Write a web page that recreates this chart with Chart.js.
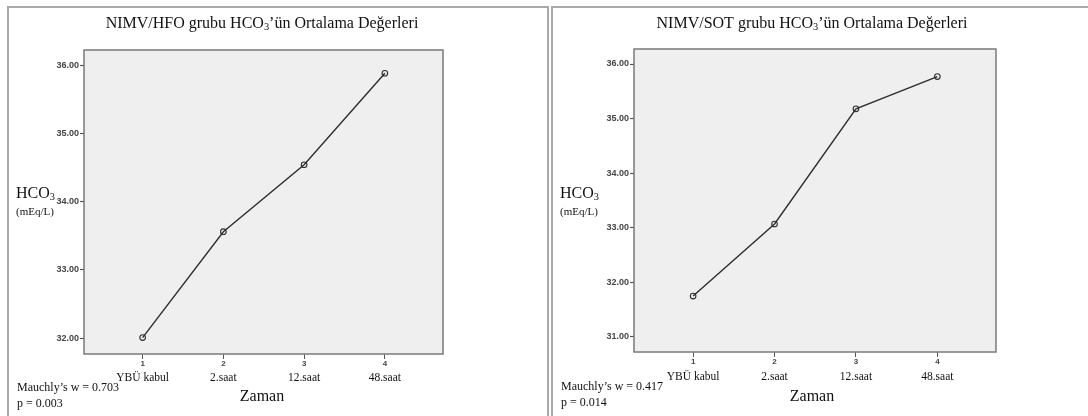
<!DOCTYPE html>
<html>
<head>
<meta charset="utf-8">
<script src="https://cdn.jsdelivr.net/npm/chart.js@4.4.0/dist/chart.umd.min.js"></script>
<style>
body{margin:0;background:#fff;width:1088px;height:416px;overflow:hidden;position:relative}
.frame{position:absolute;top:6px;height:420px;border:2px solid #a9a9a9;border-bottom:none}
canvas{position:absolute;top:0}
</style>
</head>
<body>
<div class="frame" style="left:7px;width:538px"></div>
<div class="frame" style="left:551px;width:600px"></div>
<canvas id="hfo" width="549" height="416" style="left:0"></canvas>
<canvas id="sot" width="539" height="416" style="left:549px"></canvas>
<script>
// ---------------- DATA ----------------
const timePoints = [1, 2, 3, 4];
const timeLabels = ['YBÜ kabul', '2.saat', '12.saat', '48.saat'];
const hfoValues = [32.01, 33.56, 34.54, 35.88];
const sotValues = [31.75, 33.07, 35.18, 35.77];
const hfoTicks = [32, 33, 34, 35, 36];
const sotTicks = [31, 32, 33, 34, 35, 36];

const SERIF = '"Liberation Serif", "Times New Roman", serif';

// text with a subscript "3", drawn left-aligned from x, middle at y
function subText(ctx, parts, x, y, size){
  let cx = x;
  parts.forEach(p => {
    const sub = p.sub;
    ctx.font = (sub ? size * 0.65 : size) + 'px ' + SERIF;
    ctx.fillText(p.t, cx, y + (sub ? size * 0.22 : 0));
    cx += ctx.measureText(p.t).width;
  });
  return cx - x;
}
function measureParts(ctx, parts, size){
  let w = 0;
  parts.forEach(p => {
    ctx.font = (p.sub ? size * 0.65 : size) + 'px ' + SERIF;
    w += ctx.measureText(p.t).width;
  });
  return w;
}

// ---------------- TEXT + FRAME PLUGIN ----------------
function panelPlugin(o){
  return {
    id: 'panel',
    beforeDraw(chart){
      const {ctx, chartArea: a} = chart;
      ctx.save();
      ctx.fillStyle = '#efefef';
      ctx.fillRect(a.left, a.top, a.right - a.left, a.bottom - a.top);
      ctx.restore();
    },
    afterDraw(chart){
      const {ctx, chartArea: a} = chart;
      ctx.save();
      ctx.strokeStyle = '#7a7a7a';
      ctx.lineWidth = 1.5;
      ctx.strokeRect(a.left, a.top, a.right - a.left, a.bottom - a.top);

      ctx.fillStyle = '#111';
      ctx.textBaseline = 'middle';
      ctx.textAlign = 'left';
      // title
      const tp = [{t: o.titleA}, {t: '3', sub: true}, {t: '’ün Ortalama Değerleri'}];
      const tw = measureParts(ctx, tp, 16);
      subText(ctx, tp, o.titleX - tw / 2, 24, 16);
      // y label
      subText(ctx, [{t: 'HCO'}, {t: '3', sub: true}], o.ylabX, 194, 16);
      ctx.font = '11px ' + SERIF;
      ctx.fillText('(mEq/L)', o.ylabX, 212);
      // stats
      ctx.font = '12px ' + SERIF;
      ctx.fillText(o.stat, o.statX, o.statY);
      ctx.fillText(o.pval, o.statX, o.statY + 16);
      // x title
      ctx.textAlign = 'center';
      ctx.font = '16px ' + SERIF;
      ctx.fillText('Zaman', o.titleX, 397);
      // category names under the tick numbers
      const xs = chart.scales.x;
      ctx.font = '11.5px ' + SERIF;
      timePoints.forEach((v, i) => {
        ctx.fillText(timeLabels[i], xs.getPixelForValue(v), o.catY);
      });
      ctx.restore();
    }
  };
}

function makePanel(id, values, ticks, ymin, ymax, pad, o){
  new Chart(document.getElementById(id), {
    type: 'line',
    data: {
      datasets: [{
        data: timePoints.map((x, i) => ({x: x, y: values[i]})),
        borderColor: '#2e2e2e',
        borderWidth: 1.4,
        pointRadius: 2.8,
        pointBackgroundColor: 'rgba(0,0,0,0)',
        pointBorderColor: '#2e2e2e',
        pointBorderWidth: 1.1,
        tension: 0
      }]
    },
    options: {
      responsive: false,
      animation: false,
      layout: {padding: pad},
      plugins: {legend: {display: false}, tooltip: {enabled: false}},
      scales: {
        x: {
          type: 'linear', min: 0.274, max: 4.72,
          afterBuildTicks: s => { s.ticks = timePoints.map(v => ({value: v})); },
          afterFit: s => { s.height = 40; },
          ticks: {callback: v => String(v), padding: 0, maxRotation: 0,
                  font: {family: 'Liberation Sans', size: 8, weight: 'bold'}, color: '#444'},
          grid: {drawOnChartArea: false, tickLength: 5, color: '#555', tickWidth: 1},
          border: {display: false}
        },
        y: {
          type: 'linear', min: ymin, max: ymax,
          afterBuildTicks: s => { s.ticks = ticks.map(v => ({value: v})); },
          afterFit: s => { s.width = 34; },
          ticks: {callback: v => v.toFixed(2), padding: 1,
                  font: {family: 'Liberation Sans', size: 9, weight: 'bold'}, color: '#444'},
          grid: {drawOnChartArea: false, tickLength: 4, color: '#555', tickWidth: 1.2},
          border: {display: false}
        }
      }
    },
    plugins: [panelPlugin(o)]
  });
}

makePanel('hfo', hfoValues, hfoTicks, 31.77, 36.22,
  {left: 50, top: 50, right: 106, bottom: 22},
  {titleA: 'NIMV/HFO grubu HCO', titleX: 262, ylabX: 16, stat: 'Mauchly’s w = 0.703',
   pval: 'p = 0.003', statX: 17, statY: 388, catY: 378});

makePanel('sot', sotValues, sotTicks, 30.725, 36.275,
  {left: 51, top: 49, right: 92, bottom: 24},
  {titleA: 'NIMV/SOT grubu HCO', titleX: 263, ylabX: 11, stat: 'Mauchly’s w = 0.417',
   pval: 'p = 0.014', statX: 12, statY: 387, catY: 377});
</script>
</body>
</html>
